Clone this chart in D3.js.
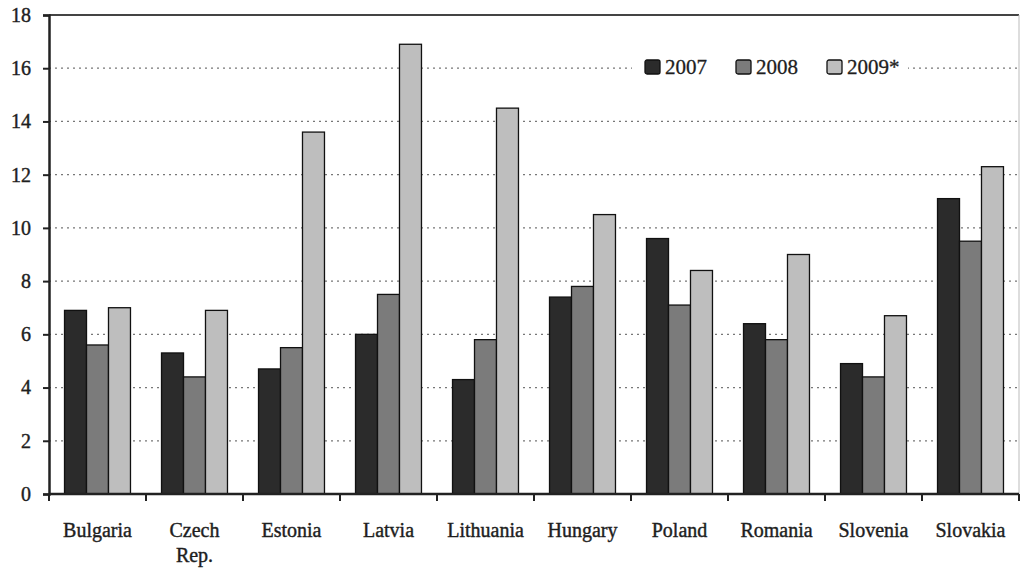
<!DOCTYPE html>
<html>
<head>
<meta charset="utf-8">
<script src="https://cdn.jsdelivr.net/npm/d3@7"></script>
<style>
  body { margin: 0; background: #fff; }
  text { font-family: "Liberation Serif", "Times New Roman", serif; }
</style>
</head>
<body>
<div id="chart"></div>
<script>
var countries = ["Bulgaria", "Czech\nRep.", "Estonia", "Latvia", "Lithuania", "Hungary", "Poland", "Romania", "Slovenia", "Slovakia"];
var years = ["2007", "2008", "2009*"];
var v2007 = [6.9, 5.3, 4.7, 6.0, 4.3, 7.4, 9.6, 6.4, 4.9, 11.1];
var v2008 = [5.6, 4.4, 5.5, 7.5, 5.8, 7.8, 7.1, 5.8, 4.4, 9.5];
var v2009 = [7.0, 6.9, 13.6, 16.9, 14.5, 10.5, 8.4, 9.0, 6.7, 12.3];
var yTicks = [0, 2, 4, 6, 8, 10, 12, 14, 16, 18];

var w = 1022, h = 568;
var margin = { top: 15, right: 3, bottom: 74, left: 49 };
var colors = ["#2b2b2b", "#7b7b7b", "#bebebe"];
var textColor = "#1e1e1e";

var data = countries.map(function(c, i) {
    return { country: c, values: [v2007[i], v2008[i], v2009[i]] };
});

var svg = d3.select("#chart").append("svg")
    .attr("width", w)
    .attr("height", h);

var x0 = d3.scaleBand().domain(countries)
    .range([margin.left, w - margin.right])
    .paddingInner(0.32).paddingOuter(0.16);
var x1 = d3.scaleBand().domain(years).range([0, x0.bandwidth()]);
var y = d3.scaleLinear().domain([0, 18]).range([h - margin.bottom, margin.top]);

// gridlines (dotted)
svg.append("g").selectAll("line")
    .data(yTicks.filter(function(d) { return d > 0 && d < 18; }))
    .enter().append("line")
    .attr("x1", margin.left).attr("x2", w - margin.right)
    .attr("y1", function(d) { return y(d); }).attr("y2", function(d) { return y(d); })
    .attr("stroke", "#777").attr("stroke-width", 1.2)
    .attr("stroke-dasharray", "2,4");

// top border and right border
svg.append("line")
    .attr("x1", margin.left).attr("x2", w - margin.right)
    .attr("y1", y(18)).attr("y2", y(18))
    .attr("stroke", "#444").attr("stroke-width", 2);
svg.append("line")
    .attr("x1", w - margin.right).attr("x2", w - margin.right)
    .attr("y1", y(18)).attr("y2", y(0))
    .attr("stroke", "#bbb").attr("stroke-width", 1);

// bars
var groups = svg.selectAll("g.country")
    .data(data)
    .enter().append("g")
    .attr("class", "country")
    .attr("transform", function(d) { return "translate(" + x0(d.country) + ",0)"; });

groups.selectAll("rect")
    .data(function(d) { return d.values.map(function(v, i) { return { key: years[i], value: v, i: i }; }); })
    .enter().append("rect")
    .attr("x", function(d) { return x1(d.key); })
    .attr("y", function(d) { return y(d.value); })
    .attr("width", x1.bandwidth())
    .attr("height", function(d) { return y(0) - y(d.value); })
    .attr("fill", function(d) { return colors[d.i]; })
    .attr("stroke", "#111")
    .attr("stroke-width", 1.3);

// y axis
var yAxis = svg.append("g")
    .attr("transform", "translate(" + margin.left + ",0)")
    .call(d3.axisLeft(y).tickValues(yTicks).tickSize(6).tickPadding(12));
yAxis.select(".domain").attr("stroke", "#222").attr("stroke-width", 2.5);
yAxis.selectAll(".tick line").attr("stroke", "#222").attr("stroke-width", 2);
yAxis.selectAll("text")
    .attr("font-size", 20)
    .attr("font-family", "Liberation Serif")
    .attr("fill", textColor)
    .attr("stroke", textColor).attr("stroke-width", 0.4);

// x axis with ticks between categories
var xAxisG = svg.append("g");
xAxisG.append("line")
    .attr("x1", margin.left).attr("x2", w - margin.right)
    .attr("y1", y(0)).attr("y2", y(0))
    .attr("stroke", "#222").attr("stroke-width", 2.5);
var step = x0.step();
var boundaries = d3.range(countries.length + 1).map(function(i) { return margin.left + i * step; });
xAxisG.selectAll("line.tick")
    .data(boundaries)
    .enter().append("line")
    .attr("class", "tick")
    .attr("x1", function(d) { return d; }).attr("x2", function(d) { return d; })
    .attr("y1", y(0)).attr("y2", y(0) + 7)
    .attr("stroke", "#222").attr("stroke-width", 2);

var labels = xAxisG.selectAll("text.lab")
    .data(countries)
    .enter().append("text")
    .attr("class", "lab")
    .attr("x", function(d) { return x0(d) + x0.bandwidth() / 2; })
    .attr("y", y(0) + 43)
    .attr("text-anchor", "middle")
    .attr("font-size", 20)
    .attr("fill", textColor)
    .attr("stroke", textColor).attr("stroke-width", 0.4);
labels.each(function(d) {
    var parts = d.split("\n");
    var t = d3.select(this);
    parts.forEach(function(p, i) {
        t.append("tspan")
            .attr("x", t.attr("x"))
            .attr("dy", i === 0 ? 0 : 25)
            .text(p);
    });
});

// legend
var legend = svg.append("g");
legend.append("rect")
    .attr("x", 632).attr("y", 56)
    .attr("width", 276).attr("height", 24)
    .attr("fill", "#fff");
var legendX = [645, 736, 827];
var items = legend.selectAll("g.item")
    .data(years)
    .enter().append("g")
    .attr("class", "item")
    .attr("transform", function(d, i) { return "translate(" + legendX[i] + ",60)"; });
items.append("rect")
    .attr("width", 15).attr("height", 14)
    .attr("rx", 2)
    .attr("fill", function(d, i) { return colors[i]; })
    .attr("stroke", "#111").attr("stroke-width", 1.3);
items.append("text")
    .attr("x", 20).attr("y", 14)
    .attr("font-size", 21)
    .attr("fill", textColor)
    .attr("stroke", textColor).attr("stroke-width", 0.3)
    .text(function(d) { return d; });
</script>
</body>
</html>
